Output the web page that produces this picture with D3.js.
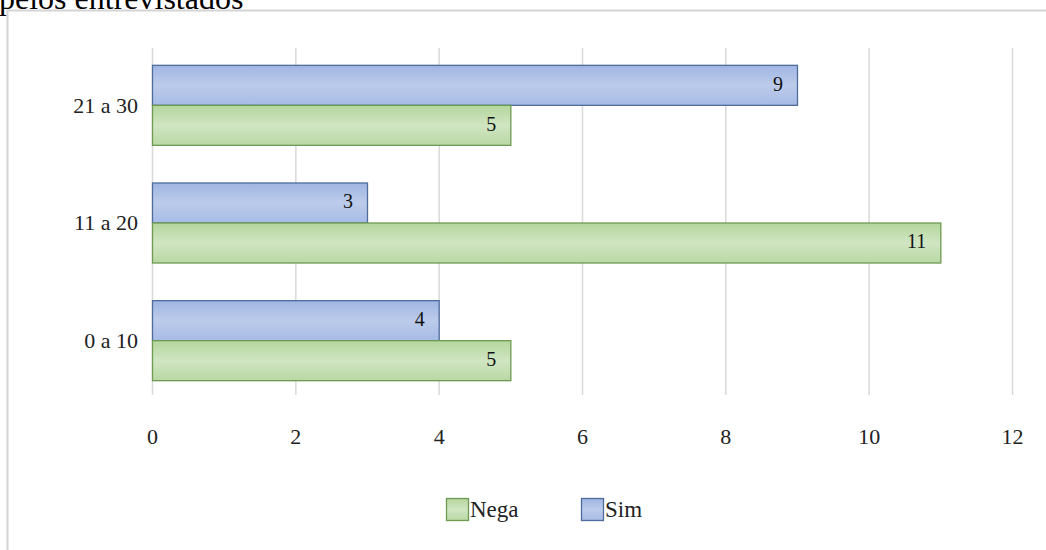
<!DOCTYPE html>
<html>
<head>
<meta charset="utf-8">
<script src="https://cdn.jsdelivr.net/npm/d3@7"></script>
<style>
    body { margin: 0; background: #fff; }
</style>
</head>
<body>
<div id="chart"></div>
<script>
// Data
const categories = ['21 a 30', '11 a 20', '0 a 10'];
const seriesNames = ['Sim', 'Nega'];
const simValues = [9, 3, 4];
const negaValues = [5, 11, 5];
const xTicks = [0, 2, 4, 6, 8, 10, 12];

const dataset = categories.map((c, i) => ({ cat: c, Sim: simValues[i], Nega: negaValues[i] }));

const serif = '"Liberation Serif", "Times New Roman", serif';

// Dimensions
let dimensions = {
    width: 1046,
    height: 550,
    margin: { top: 46, bottom: 151, left: 152, right: 34 },
};
dimensions.ctrWidth = dimensions.width - dimensions.margin.left - dimensions.margin.right;
dimensions.ctrHeight = dimensions.height - dimensions.margin.top - dimensions.margin.bottom;

const svg = d3.select('#chart')
    .append('svg')
    .attr('width', dimensions.width)
    .attr('height', dimensions.height)
    .attr('font-family', serif)
    .style('display', 'block');

// Gradients
const defs = svg.append('defs');
const grads = {
    Sim: ['#9fb5e2', '#bccbea', '#a6bbe6'],
    Nega: ['#b4d69c', '#d0e5c2', '#b9d8a3'],
};
Object.entries(grads).forEach(([k, cols]) => {
    const g = defs.append('linearGradient')
        .attr('id', 'grad-' + k)
        .attr('x1', 0).attr('y1', 0).attr('x2', 0).attr('y2', 1);
    g.append('stop').attr('offset', '0%').attr('stop-color', cols[0]);
    g.append('stop').attr('offset', '50%').attr('stop-color', cols[1]);
    g.append('stop').attr('offset', '100%').attr('stop-color', cols[2]);
});
const strokes = { Sim: '#4f6d9c', Nega: '#6e9a52' };

// Title (cut off at top, as in the source) and frame
svg.append('text')
    .attr('x', -1)
    .attr('y', 9)
    .attr('font-size', 32)
    .attr('fill', '#000')
    .text('pelos entrevistados');

svg.append('rect')
    .attr('x', 7.5)
    .attr('y', 10.5)
    .attr('width', dimensions.width)
    .attr('height', dimensions.height)
    .attr('fill', 'none')
    .attr('stroke', '#d4d4d4')
    .attr('stroke-width', 2);

const ctr = svg.append('g')
    .attr('transform', `translate(${dimensions.margin.left}, ${dimensions.margin.top})`);

// Scales
const xScale = d3.scaleLinear()
    .domain([0, 12])
    .range([0, dimensions.ctrWidth]);

const yScale = d3.scaleBand()
    .domain(categories)
    .range([0, dimensions.ctrHeight])
    .paddingInner(0.32)
    .paddingOuter(0.16);

const subScale = d3.scaleBand()
    .domain(seriesNames)
    .range([0, yScale.bandwidth()]);

// Gridlines
ctr.append('g')
    .selectAll('line')
    .data(xTicks)
    .join('line')
    .attr('x1', d => xScale(d) + 0.5)
    .attr('x2', d => xScale(d) + 0.5)
    .attr('y1', 2)
    .attr('y2', dimensions.ctrHeight - 4)
    .attr('stroke', '#d9d9d9')
    .attr('stroke-width', 1.5);

// Bars
const groups = ctr.append('g')
    .selectAll('g')
    .data(dataset)
    .join('g')
    .attr('transform', d => `translate(0, ${yScale(d.cat)})`);

groups.selectAll('rect')
    .data(d => seriesNames.map(s => ({ key: s, value: d[s] })))
    .join('rect')
    .attr('x', xScale(0) + 0.5)
    .attr('y', d => subScale(d.key) + 0.5)
    .attr('width', d => xScale(d.value) - xScale(0))
    .attr('height', subScale.bandwidth())
    .attr('fill', d => `url(#grad-${d.key})`)
    .attr('stroke', d => strokes[d.key])
    .attr('stroke-width', 1.3);

groups.selectAll('text')
    .data(d => seriesNames.map(s => ({ key: s, value: d[s] })))
    .join('text')
    .attr('x', d => xScale(d.value) - 14)
    .attr('y', d => subScale(d.key) + subScale.bandwidth() / 2 + 6)
    .attr('text-anchor', 'end')
    .attr('font-size', 20)
    .attr('fill', '#111')
    .text(d => d.value);

// Axes
const xAxis = d3.axisBottom(xScale)
    .tickValues(xTicks)
    .tickSize(0)
    .tickPadding(0);

const xAxisGroup = ctr.append('g')
    .attr('transform', `translate(0, ${dimensions.ctrHeight + 29})`)
    .call(xAxis)
    .attr('font-family', serif);
xAxisGroup.select('.domain').remove();
xAxisGroup.selectAll('text')
    .attr('font-size', 22)
    .attr('fill', '#222');

const yAxis = d3.axisLeft(yScale)
    .tickSize(0)
    .tickPadding(14);

const yAxisGroup = ctr.append('g')
    .call(yAxis)
    .attr('font-family', serif);
yAxisGroup.select('.domain').remove();
yAxisGroup.selectAll('text')
    .attr('font-size', 22)
    .attr('fill', '#222')
    .attr('dy', '0.35em');

// Legend
const legendItems = [
    { key: 'Nega', x: 446 },
    { key: 'Sim', x: 581 },
];
const legend = svg.append('g').attr('transform', 'translate(0, 498)');
legend.selectAll('rect')
    .data(legendItems)
    .join('rect')
    .attr('x', d => d.x + 0.5)
    .attr('y', 0.5)
    .attr('width', 22)
    .attr('height', 22)
    .attr('fill', d => `url(#grad-${d.key})`)
    .attr('stroke', d => strokes[d.key])
    .attr('stroke-width', 1.3);
legend.selectAll('text')
    .data(legendItems)
    .join('text')
    .attr('x', d => d.x + 24)
    .attr('y', 19)
    .attr('font-size', 23)
    .attr('fill', '#222')
    .text(d => d.key);
</script>
</body>
</html>
